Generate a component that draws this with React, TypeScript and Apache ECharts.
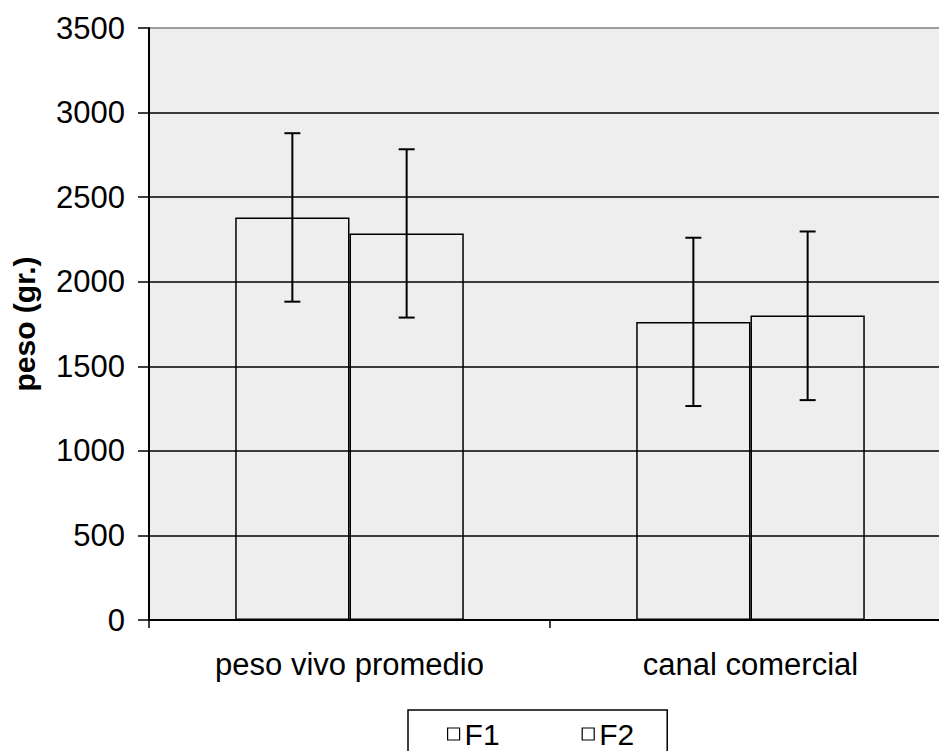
import React, { useEffect, useRef } from "react";
import * as echarts from "echarts";

const categories = ["peso vivo promedio", "canal comercial"];
const seriesNames = ["F1", "F2"];
const f1Values = [2380, 1762];
const f2Values = [2285, 1800];
const f1Low = [1882, 1265];
const f1High = [2878, 2260];
const f2Low = [1788, 1300];
const f2High = [2783, 2297];
const yTicks = [0, 500, 1000, 1500, 2000, 2500, 3000, 3500];

const FONT = "'Liberation Sans', Arial, sans-serif";
const BAR_FRACTION = 0.285;

function errorSeries(name: string, low: number[], high: number[], side: number) {
  return {
    type: "custom",
    name: name + " err",
    z: 5,
    silent: true,
    data: low.map((l, i) => [i, l, high[i]]),
    renderItem: (params: any, api: any) => {
      const idx = api.value(0);
      const band = api.size([1, 0])[0];
      const off = side * band * BAR_FRACTION / 2;
      const pLow = api.coord([idx, api.value(1)]);
      const pHigh = api.coord([idx, api.value(2)]);
      const x = pLow[0] + off;
      const cap = 8;
      const st = { stroke: "#000", lineWidth: 2 };
      return {
        type: "group",
        children: [
          { type: "line", shape: { x1: x, y1: pLow[1], x2: x, y2: pHigh[1] }, style: st },
          { type: "line", shape: { x1: x - cap, y1: pLow[1], x2: x + cap, y2: pLow[1] }, style: st },
          { type: "line", shape: { x1: x - cap, y1: pHigh[1], x2: x + cap, y2: pHigh[1] }, style: st },
        ],
      };
    },
  };
}

export default function App() {
  const ref = useRef<HTMLDivElement>(null);
  useEffect(() => {
    if (!ref.current) return;
    const chart = echarts.init(ref.current, null, { renderer: "svg" });
    const gridColors = yTicks.map((t, i) => (i === yTicks.length - 1 ? "#808080" : "#000"));
    chart.setOption({
      animation: false,
      textStyle: { fontFamily: FONT },
      grid: {
        left: 149,
        right: 0,
        top: 28,
        bottom: 131,
        show: true,
        backgroundColor: "#eeeeee",
        borderWidth: 0,
      },
      legend: {
        data: seriesNames.map((n) => ({
          name: n,
          itemStyle: { color: "#fff", borderColor: "#000", borderWidth: 1.2 },
        })),
        left: 408,
        top: 710,
        icon: "rect",
        itemWidth: 12,
        itemHeight: 12,
        itemGap: 82,
        itemTextGap: 7,
        itemStyle: { color: "#fff", borderColor: "#000", borderWidth: 1.2 },
        textStyle: { fontSize: 30, color: "#000", fontFamily: FONT, padding: [0, 0, 0, 0] },
        padding: [9, 33, 12, 39],
        borderColor: "#000",
        borderWidth: 1.5,
        backgroundColor: "#fff",
      },
      xAxis: {
        type: "category",
        data: categories,
        axisLine: { lineStyle: { color: "#000", width: 2 } },
        axisTick: { show: true, length: 8, lineStyle: { color: "#000", width: 1.5 } },
        axisLabel: { fontSize: 31, color: "#000", margin: 29, fontFamily: FONT },
      },
      yAxis: {
        type: "value",
        min: 0,
        max: 3500,
        interval: 500,
        name: "peso (gr.)",
        nameLocation: "middle",
        nameRotate: 90,
        nameGap: 110,
        nameTextStyle: { fontSize: 30, fontWeight: "bold", color: "#000", fontFamily: FONT },
        axisLine: { show: true, lineStyle: { color: "#000", width: 2 } },
        axisTick: { show: true, length: 11, lineStyle: { color: "#000", width: 1.5 } },
        axisLabel: {
          fontSize: 31,
          color: "#000",
          margin: 24,
          fontFamily: FONT,
          formatter: (v: number) => String(v),
        },
        splitLine: { show: true, lineStyle: { color: gridColors, width: 1.5 } },
      },
      series: [
        {
          type: "bar",
          name: "F1",
          data: f1Values,
          barGap: "0%",
          barCategoryGap: "43%",
          itemStyle: { color: "rgba(0,0,0,0)", borderColor: "#000", borderWidth: 1.5 },
        },
        {
          type: "bar",
          name: "F2",
          data: f2Values,
          barGap: "0%",
          barCategoryGap: "43%",
          itemStyle: { color: "rgba(0,0,0,0)", borderColor: "#000", borderWidth: 1.5 },
        },
        errorSeries("F1", f1Low, f1High, -1),
        errorSeries("F2", f2Low, f2High, 1),
      ],
    });
    return () => chart.dispose();
  }, []);
  return (
    <div style={{ position: "absolute", left: 0, top: 0, width: 939, height: 751, overflow: "hidden", background: "#fff" }}>
      <div ref={ref} style={{ width: 951, height: 751 }} />
    </div>
  );
}
